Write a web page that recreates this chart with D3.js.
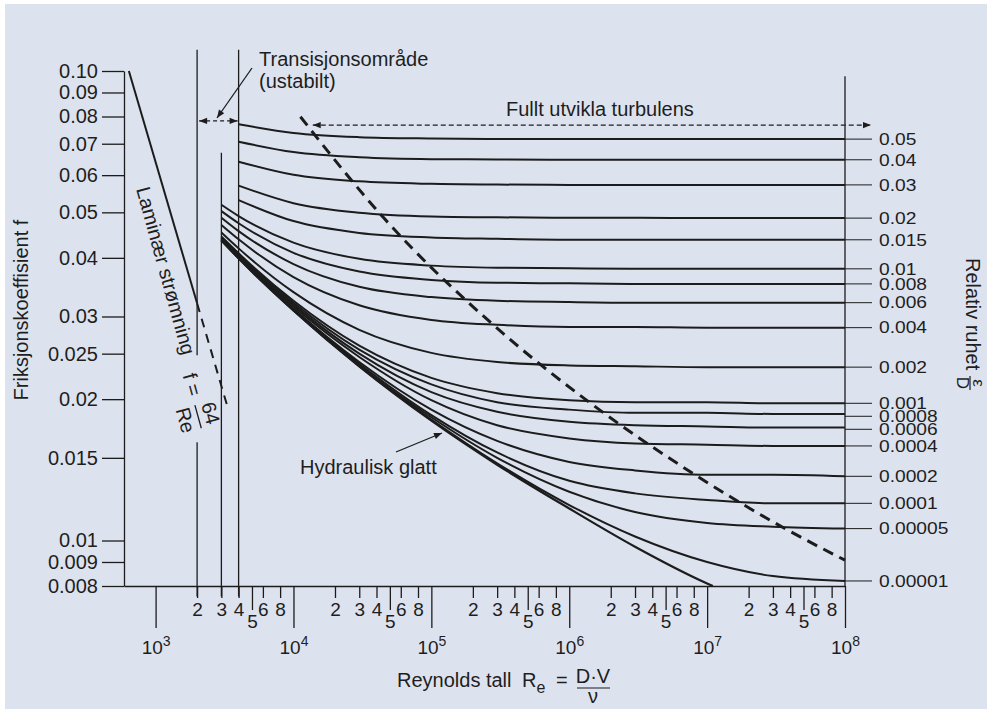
<!DOCTYPE html>
<html>
<head>
<meta charset="utf-8">
<script src="https://cdn.jsdelivr.net/npm/d3@7"></script>
<style>
  body { margin: 0; background: #fff; }
  svg { display: block; }
  text { font-family: "Liberation Sans", Arial, Helvetica, sans-serif; fill: #1e1e1e; }
</style>
</head>
<body>
<script>
// Moody diagram (friction factor vs Reynolds number)

// Reynolds numbers where curves were read
const reGrid = [3e3, 4e3, 1e4, 3e4, 1e5, 3e5, 1e6, 3e6, 1e7, 3e7, 1e8];

// relative roughness labels (right side) and friction values read at reGrid
const roughnessLabels = ["0.05", "0.04", "0.03", "0.02", "0.015", "0.01", "0.008", "0.006",
  "0.004", "0.002", "0.001", "0.0008", "0.0006", "0.0004", "0.0002", "0.0001", "0.00005", "0.00001"];
const frictionRows = [
  [null, .0770, .0738, .0723, .0718, .0716, .0716, .0716, .0716, .0716, .0716],
  [null, .0707, .0672, .0655, .0649, .0648, .0647, .0647, .0647, .0647, .0647],
  [null, .0641, .0601, .0582, .0575, .0573, .0572, .0572, .0572, .0572, .0572],
  [null, .0570, .0523, .0499, .0490, .0488, .0487, .0487, .0486, .0486, .0486],
  [null, .0531, .0479, .0452, .0442, .0439, .0437, .0437, .0437, .0437, .0437],
  [.0519, .0491, .0431, .0398, .0385, .0381, .0380, .0379, .0379, .0379, .0379],
  [.0503, .0474, .0410, .0374, .0359, .0354, .0353, .0352, .0352, .0352, .0352],
  [.0487, .0456, .0388, .0347, .0330, .0324, .0322, .0321, .0321, .0321, .0321],
  [.0470, .0438, .0364, .0317, .0295, .0288, .0285, .0285, .0284, .0284, .0284],
  [.0453, .0419, .0338, .0281, .0251, .0240, .0236, .0235, .0234, .0234, .0234],
  [.0444, .0409, .0324, .0260, .0222, .0206, .0199, .0197, .0197, .0196, .0196],
  [.0442, .0407, .0321, .0255, .0215, .0197, .0190, .0187, .0187, .0186, .0186],
  [.0441, .0405, .0318, .0250, .0207, .0188, .0179, .0176, .0175, .0174, .0174],
  [.0439, .0403, .0315, .0246, .0199, .0176, .0165, .0161, .0160, .0159, .0159],
  [.0437, .0401, .0312, .0240, .0190, .0163, .0147, .0141, .0138, .0138, .0137],
  [.0436, .0400, .0310, .0238, .0185, .0154, .0134, .0126, .0122, .0120, .0120],
  [.0436, .0400, .0310, .0236, .0183, .0150, .0127, .0115, .0109, .0107, .0106],
  [.0436, .0399, .0309, .0235, .0181, .0146, .0119, .0102, .0090, .0084, .0082]
];

// hydraulically smooth pipe
const smoothRe = [3e3, 4e3, 1e4, 3e4, 1e5, 3e5, 1e6, 3e6, 1e7, 1.1e7];
const smoothF = [.0436, .0399, .0309, .0235, .0180, .0145, .0117, .0097, .0081, .0080];

// laminar line (solid part, then dashed part)
const laminarRe = [640, 2000];
const laminarF = [0.1, 0.032];
const laminarDashRe = [2000, 3300];
const laminarDashF = [0.032, 0.0194];

// limit of fully developed turbulence (dashed)
const boundaryRe = [11230, 45300, 296600, 1.43e6, 8.5e6, 3.9e7, 1e8];
const boundaryF = [0.0799, 0.0486, 0.0284, 0.0196, 0.0137, 0.0105, 0.00908];

// axis ticks
const yTicks = [0.1, 0.09, 0.08, 0.07, 0.06, 0.05, 0.04, 0.03, 0.025, 0.02, 0.015, 0.01, 0.009, 0.008];
const yTickLabels = ["0.10", "0.09", "0.08", "0.07", "0.06", "0.05", "0.04", "0.03", "0.025", "0.02", "0.015", "0.01", "0.009", "0.008"];
const decadeExps = [3, 4, 5, 6, 7, 8];
const minorDigits = [2, 3, 4, 6, 8];

const W = 987, H = 709;
const ink = "#1c1c1c";

const svg = d3.select("body").append("svg")
  .attr("width", W)
  .attr("height", H);

svg.append("rect").attr("width", W).attr("height", H).attr("fill", "#fff");
svg.append("rect").attr("x", 5).attr("y", 4).attr("width", W - 5).attr("height", H - 4).attr("fill", "#dde3ee");

const x = d3.scaleLog().domain([590, 1e8]).range([124, 845]);
const y = d3.scaleLog().domain([0.008, 0.1]).range([586, 71]);

// arrowhead
svg.append("defs")
  .append("marker")
  .attr("id", "head")
  .attr("viewBox", "0 -5 10 10")
  .attr("refX", 10)
  .attr("refY", 0)
  .attr("markerUnits", "userSpaceOnUse")
  .attr("markerWidth", 10)
  .attr("markerHeight", 8)
  .attr("orient", "auto-start-reverse")
  .append("path")
  .attr("d", "M0,-4L10,0L0,4Z")
  .attr("fill", ink);

// ---- axes ----
function styleAxis(g) {
  g.attr("font-size", null).attr("font-family", null);
  g.selectAll("path, line").attr("stroke", ink).attr("stroke-width", 1.3);
}

svg.append("g")
  .attr("transform", `translate(${x(590)},0)`)
  .call(d3.axisLeft(y).tickValues(yTicks).tickFormat((d, i) => yTickLabels[i]).tickSize(22).tickSizeOuter(0).tickPadding(4))
  .call(styleAxis)
  .selectAll("text").style("font-size", "20px");

const minorTicks = [];
const fiveTicks = [];
decadeExps.slice(0, -1).forEach(e => {
  minorDigits.forEach(m => minorTicks.push(m * Math.pow(10, e)));
  fiveTicks.push(5 * Math.pow(10, e));
});

svg.append("g")
  .attr("transform", `translate(0,${y(0.008)})`)
  .call(d3.axisBottom(x).tickValues(decadeExps.map(e => Math.pow(10, e))).tickSize(42).tickSizeOuter(0).tickPadding(13).tickFormat(""))
  .call(styleAxis)
  .selectAll(".tick text")
  .style("font-size", "19px")
  .each(function(d) {
    const t = d3.select(this);
    t.append("tspan").text("10");
    t.append("tspan").attr("dy", -8).style("font-size", "14px").text(Math.round(Math.log10(d)));
  });

svg.append("g")
  .attr("transform", `translate(0,${y(0.008)})`)
  .call(d3.axisBottom(x).tickValues(minorTicks).tickSize(12).tickSizeOuter(0).tickPadding(5)
    .tickFormat(d => String(Math.round(d / Math.pow(10, Math.floor(Math.log10(d) + 1e-9))))))
  .call(styleAxis)
  .call(g => g.select(".domain").remove())
  .selectAll("text").style("font-size", "19px");

svg.append("g")
  .attr("transform", `translate(0,${y(0.008)})`)
  .call(d3.axisBottom(x).tickValues(fiveTicks).tickSize(24).tickSizeOuter(0).tickPadding(5).tickFormat(() => "5"))
  .call(styleAxis)
  .call(g => g.select(".domain").remove())
  .selectAll("text").style("font-size", "19px");

// vertical guide lines (transition zone, right border)
const guides = [
  { re: 2000, top: 0.111, bottom: 0.0248 },
  { re: 2000, top: 0.0162, bottom: 0.0076 },
  { re: 3000, top: 0.067, bottom: 0.0076 },
  { re: 4000, top: 0.111, bottom: 0.0076 },
  { re: 1e8, top: 0.0975, bottom: 0.008 }
];
svg.append("g").selectAll("line")
  .data(guides)
  .join("line")
  .attr("x1", d => x(d.re)).attr("x2", d => x(d.re))
  .attr("y1", d => y(d.top)).attr("y2", d => y(d.bottom))
  .attr("stroke", ink).attr("stroke-width", 1.3);

// ---- curves ----
const line = d3.line()
  .defined(d => d.f != null)
  .x(d => x(d.re))
  .y(d => y(d.f))
  .curve(d3.curveMonotoneX);

const curves = frictionRows.map((row, i) => ({
  label: roughnessLabels[i],
  pts: row.map((f, j) => ({ re: reGrid[j], f: f }))
}));

svg.append("g").selectAll("path")
  .data(curves)
  .join("path")
  .attr("d", d => line(d.pts))
  .attr("fill", "none")
  .attr("stroke", ink)
  .attr("stroke-width", 2);

svg.append("path")
  .attr("d", line(smoothRe.map((re, i) => ({ re: re, f: smoothF[i] }))))
  .attr("fill", "none")
  .attr("stroke", ink)
  .attr("stroke-width", 2.2);

// right-hand leaders and labels, pushed apart where they crowd
curves.forEach(c => { c.ly = y(c.pts[c.pts.length - 1].f); });
for (let i = 1; i < curves.length; i++) {
  if (curves[i].ly - curves[i - 1].ly < 13) curves[i].ly = curves[i - 1].ly + 13;
}
const rightLabels = svg.append("g").selectAll("g")
  .data(curves)
  .join("g")
  .attr("transform", d => `translate(${x(1e8)},${d.ly})`);
rightLabels.append("line")
  .attr("x2", 27)
  .attr("stroke", ink).attr("stroke-width", 1);
rightLabels.append("text")
  .attr("transform", "translate(34,0) scale(1.2,1)")
  .attr("dy", "0.36em")
  .style("font-size", "16px")
  .text(d => d.label);

// laminar flow
const straight = d3.line().x(d => x(d.re)).y(d => y(d.f));
svg.append("path")
  .attr("d", straight(laminarRe.map((re, i) => ({ re: re, f: laminarF[i] }))))
  .attr("stroke", ink).attr("stroke-width", 2).attr("fill", "none");
svg.append("path")
  .attr("d", straight(laminarDashRe.map((re, i) => ({ re: re, f: laminarDashF[i] }))))
  .attr("stroke", ink).attr("stroke-width", 2).attr("fill", "none")
  .attr("stroke-dasharray", "9,7");

// fully turbulent limit
svg.append("path")
  .attr("d", d3.line().x(d => x(d.re)).y(d => y(d.f)).curve(d3.curveMonotoneX)(boundaryRe.map((re, i) => ({ re: re, f: boundaryF[i] }))))
  .attr("stroke", ink).attr("stroke-width", 3).attr("fill", "none")
  .attr("stroke-dasharray", "11,7");

// ---- annotations ----
// transition zone
svg.append("line")
  .attr("x1", x(2000) + 2).attr("x2", x(4000) - 1)
  .attr("y1", y(0.0783)).attr("y2", y(0.0783))
  .attr("stroke", ink).attr("stroke-width", 1.3).attr("stroke-dasharray", "4,3")
  .attr("marker-start", "url(#head)").attr("marker-end", "url(#head)");
svg.append("line")
  .attr("x1", 252).attr("y1", 68).attr("x2", 217).attr("y2", 118)
  .attr("stroke", ink).attr("stroke-width", 1.3)
  .attr("marker-end", "url(#head)");
svg.append("text").attr("x", 259).attr("y", 66).style("font-size", "20px").text("Transisjonsområde");
svg.append("text").attr("x", 259).attr("y", 88).style("font-size", "20px").text("(ustabilt)");

// fully developed turbulence
svg.append("line")
  .attr("x1", x(13800)).attr("x2", 871)
  .attr("y1", y(0.0767)).attr("y2", y(0.0767))
  .attr("stroke", ink).attr("stroke-width", 1.3).attr("stroke-dasharray", "5,3")
  .attr("marker-start", "url(#head)").attr("marker-end", "url(#head)");
svg.append("text").attr("x", 506).attr("y", 116).style("font-size", "20px").text("Fullt utvikla turbulens");

// hydraulically smooth
svg.append("line")
  .attr("x1", 396).attr("y1", 452).attr("x2", 442).attr("y2", 433)
  .attr("stroke", ink).attr("stroke-width", 1.3)
  .attr("marker-end", "url(#head)");
svg.append("text").attr("x", 300).attr("y", 474).style("font-size", "20px").text("Hydraulisk glatt");

// laminar label along the line
const lam = svg.append("g").attr("transform", "translate(136,189) rotate(74.5)");
lam.append("text").style("font-size", "20px").text("Laminær strømning");
lam.append("text").attr("x", 192).attr("y", 5).style("font-size", "20px").text("f =");
lam.append("text").attr("x", 236).attr("y", -5).attr("text-anchor", "middle").style("font-size", "20px").text("64");
lam.append("line").attr("x1", 224).attr("x2", 248).attr("y1", 1).attr("y2", 1).attr("stroke", ink).attr("stroke-width", 1.3);
lam.append("text").attr("x", 236).attr("y", 21).attr("text-anchor", "middle").style("font-size", "20px").text("Re");

// ---- titles ----
svg.append("text")
  .attr("transform", "translate(28,310) rotate(-90)")
  .attr("text-anchor", "middle")
  .style("font-size", "20px")
  .text("Friksjonskoeffisient f");

const rt = svg.append("g").attr("transform", "translate(966,258) rotate(90)");
rt.append("text").style("font-size", "20px").text("Relativ ruhet");
rt.append("text").attr("x", 125).attr("y", -7).attr("text-anchor", "middle").style("font-size", "17px").text("ε");
rt.append("line").attr("x1", 118).attr("x2", 132).attr("y1", -4).attr("y2", -4).attr("stroke", ink).attr("stroke-width", 1.2);
rt.append("text").attr("x", 125).attr("y", 9).attr("text-anchor", "middle").style("font-size", "17px").text("D");

const xt = svg.append("g");
xt.append("text").attr("x", 397).attr("y", 687).style("font-size", "20px").text("Reynolds tall");
const re = xt.append("text").attr("x", 522).attr("y", 687).style("font-size", "20px");
re.append("tspan").text("R");
re.append("tspan").attr("dy", 6).style("font-size", "16px").text("e");
xt.append("text").attr("x", 556).attr("y", 687).style("font-size", "20px").text("=");
xt.append("text").attr("x", 593).attr("y", 683).attr("text-anchor", "middle").style("font-size", "20px").text("D·V");
xt.append("line").attr("x1", 577).attr("x2", 610).attr("y1", 688).attr("y2", 688).attr("stroke", ink).attr("stroke-width", 1.2);
xt.append("text").attr("x", 593).attr("y", 703).attr("text-anchor", "middle").style("font-size", "20px").text("ν");
</script>
</body>
</html>
